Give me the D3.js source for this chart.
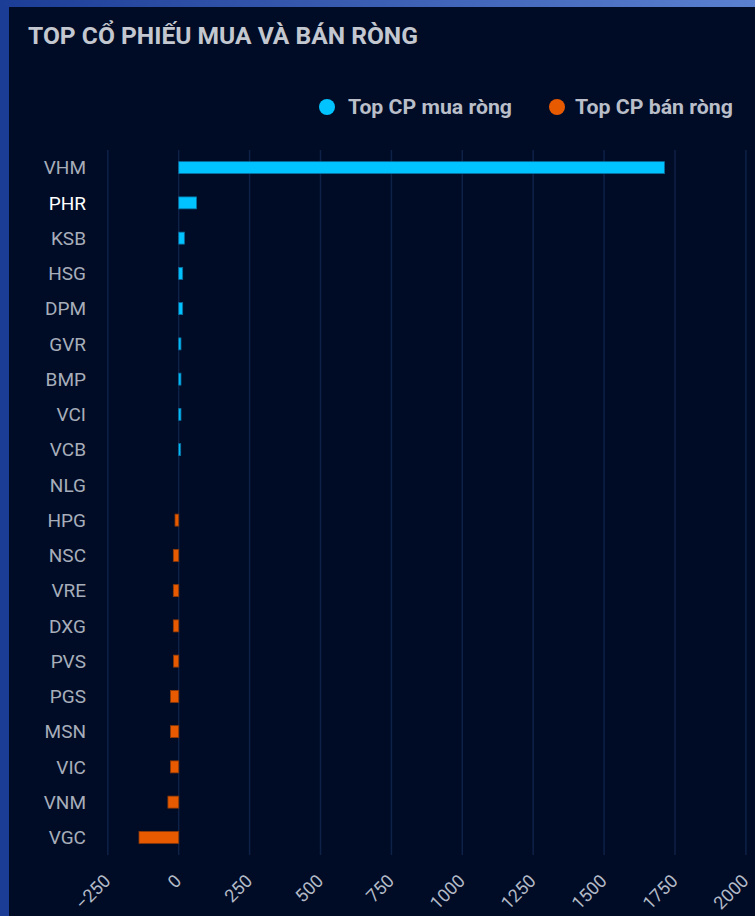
<!DOCTYPE html>
<html><head><meta charset="utf-8">
<script src="https://cdn.jsdelivr.net/npm/d3@7"></script>
<style>
html,body{margin:0;padding:0;background:#000c26;}
svg{display:block;}
</style></head>
<body>
<svg id="c" width="755" height="916"></svg>
<script>
const categories = ["VHM","PHR","KSB","HSG","DPM","GVR","BMP","VCI","VCB","NLG","HPG","NSC","VRE","DXG","PVS","PGS","MSN","VIC","VNM","VGC"];
const values = [1713, 63, 20, 14, 14, 8, 8, 8, 7, 0, -13, -19, -19, -19, -18, -29, -29, -29, -38, -140];
const xTicks = [-250, 0, 250, 500, 750, 1000, 1250, 1500, 1750, 2000];
const seriesNames = ["Top CP mua ròng", "Top CP bán ròng"];
const colors = ["#00c3ff", "#e85a00"];
const title = "TOP CỔ PHIẾU MUA VÀ BÁN RÒNG";

const svg = d3.select("#c");
const defs = svg.append("defs");
const g1 = defs.append("linearGradient").attr("id","bd").attr("x1","0").attr("x2","1");
g1.append("stop").attr("offset","0").attr("stop-color","#1c3d96");
g1.append("stop").attr("offset","1").attr("stop-color","#5a80d0");
svg.append("rect").attr("width",755).attr("height",916).attr("fill","url(#bd)");
svg.append("rect").attr("x",0).attr("y",7).attr("width",9).attr("height",909).attr("fill","#1c3d96");
svg.append("rect").attr("x",9).attr("y",7).attr("width",746).attr("height",909).attr("fill","#000c26");

const font = "Roboto, 'Noto Sans', sans-serif";
svg.append("text").attr("x",28).attr("y",44).text(title)
  .attr("font-family",font).attr("font-weight","bold").attr("font-size",23)
  .attr("fill","#c3c7cf").attr("textLength",390).attr("lengthAdjust","spacingAndGlyphs");

// legend
const leg = [{x:327, tx:348, tl:164},{x:557, tx:575, tl:158}];
leg.forEach((l,i)=>{
  svg.append("circle").attr("cx",l.x).attr("cy",107).attr("r",8).attr("fill",colors[i]);
  svg.append("text").attr("x",l.tx).attr("y",114).text(seriesNames[i])
    .attr("font-family",font).attr("font-weight","bold").attr("font-size",20)
    .attr("fill","#b9bec8").attr("textLength",l.tl).attr("lengthAdjust","spacingAndGlyphs");
});

const x = d3.scaleLinear().domain([-250,2000]).range([107.8,745.9]);
const y = d3.scaleBand().domain(categories).range([150,855]).paddingInner(0.66).paddingOuter(0.33);

// grid
svg.append("g").selectAll("line").data(xTicks).join("line")
  .attr("x1",d=>x(d)).attr("x2",d=>x(d)).attr("y1",150).attr("y2",855)
  .attr("stroke","#0e2147").attr("stroke-width",1.5);

// bars
svg.append("g").selectAll("rect").data(categories).join("rect")
  .attr("x",(d,i)=>x(Math.min(0,values[i])))
  .attr("width",(d,i)=>Math.abs(x(values[i])-x(0)))
  .attr("y",d=>y(d)).attr("height",y.bandwidth())
  .attr("fill",(d,i)=>values[i]>=0?colors[0]:colors[1])
  .attr("stroke",(d,i)=>values[i]>=0?"#0a6d9c":"#8a3a08").attr("stroke-width",0.8)
  .attr("opacity",(d,i)=>values[i]===0?0:1);

// y labels
const yAxis = svg.append("g").attr("transform","translate(86,0)")
  .call(d3.axisLeft(y).tickSize(0).tickPadding(0));
yAxis.select(".domain").remove();
yAxis.selectAll("text").attr("font-family",font).attr("font-size",19)
  .attr("fill",d=>d==="PHR"?"#ffffff":"#a7aeba").attr("dy","0.36em");

// x labels
const xg = svg.append("g");
xg.selectAll("text").data(xTicks).join("text")
  .attr("transform",d=>`translate(${x(d)+3.8},882) rotate(-45)`)
  .attr("text-anchor","end")
  .attr("font-family",font).attr("font-size",18).attr("fill","#b3bac6")
  .text(d=>d3.format("d")(d));
</script>
</body></html>
